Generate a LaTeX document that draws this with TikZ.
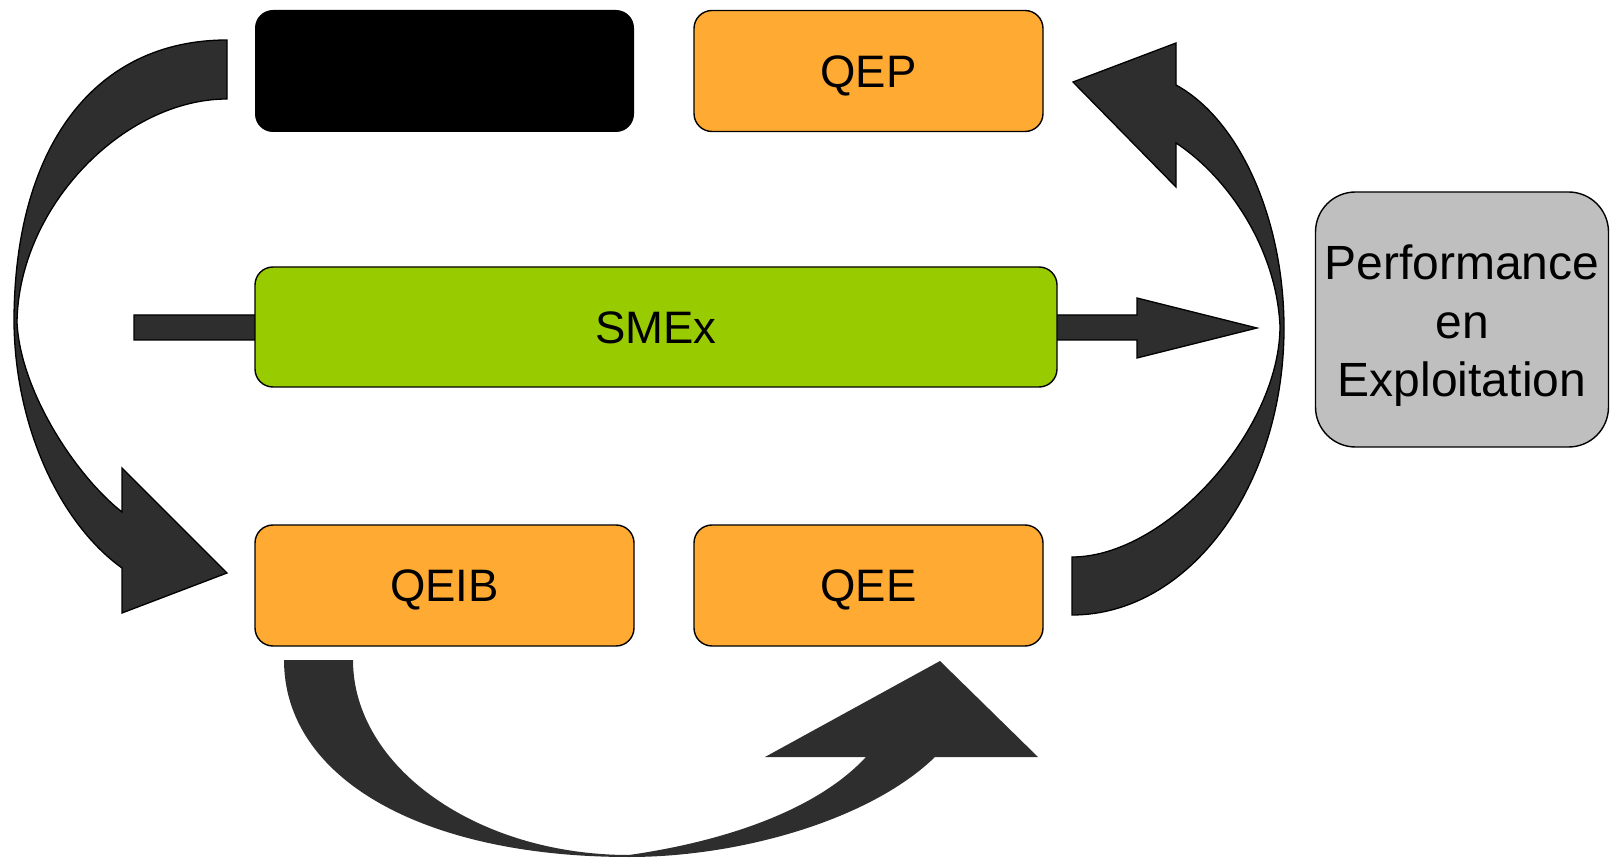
\documentclass[tikz,border=0pt]{standalone}
\usepackage{fontspec}
\setmainfont{Liberation Sans}
\definecolor{boxorange}{RGB}{255,170,51}
\definecolor{boxgreen}{RGB}{153,204,0}
\definecolor{boxgray}{RGB}{191,191,191}
\definecolor{arrowdark}{RGB}{46,46,46}
\begin{document}
\begin{tikzpicture}[x=1pt,y=-1pt,
  box/.style={draw=black,line width=1.4pt,rounded corners=18pt,inner sep=0pt,
    font=\fontsize{45.5}{55}\selectfont,text height=32.6pt,text depth=0pt},
  perftext/.style={inner sep=0pt,anchor=base,font=\fontsize{48}{58}\selectfont},
  bigarrow/.style={fill=arrowdark,draw=black,line width=1.3pt,line join=miter},
  flatarrow/.style={fill=arrowdark,draw=none}]
\useasboundingbox (0,0) rectangle (1610,858);

% straight arrow (behind SMEx)
\coordinate (sat) at (1257,328);
\draw[bigarrow] (134,315) -- (1137,315) -- (1137,298) -- (sat) -- (1137,358) -- (1137,340) -- (134,340) -- cycle;

% left curved arrow (black box -> QEIB)
\draw[bigarrow] (227,40) .. controls (95,40) and (14,146) .. (14,322)
  .. controls (15,430) and (62,525) .. (122,568)
  -- (122,613) -- (227,573) -- (122,468) -- (122,512)
  .. controls (75,475) and (20,390) .. (17,322)
  .. controls (19,205) and (125,99) .. (227,99) -- cycle;

% right curved arrow (QEE -> QEP)
\draw[bigarrow] (1072,615) .. controls (1189,615) and (1284,486) .. (1284,328)
  .. controls (1284,220) and (1240,120) .. (1176,85)
  -- (1176,43) -- (1073,82) -- (1176,187) -- (1176,143)
  .. controls (1225,175) and (1276,245) .. (1280,326)
  .. controls (1280,430) and (1166,557) .. (1072,557) -- cycle;

% bottom arrow (QEIB -> QEE)
\draw[flatarrow] (284,660) .. controls (284,778) and (422,857) .. (629,857)
  .. controls (740,857) and (870,820) .. (935,757)
  -- (1038,757) -- (940,661) -- (765,757) -- (866,757)
  .. controls (815,812) and (720,842) .. (629,855)
  .. controls (477,855) and (353,767) .. (353,660) -- cycle;

% boxes
\node[box,fill=black,draw=none,minimum width=379pt,minimum height=122pt] (hidden) at (444.5,71) {};
\node[box,fill=boxorange,minimum width=349pt,minimum height=121pt] (qep) at (868.5,71) {QEP};
\node[box,fill=boxgreen,minimum width=802pt,minimum height=120pt] (smex) at (656,327) {SMEx};
\node[box,fill=boxorange,minimum width=379pt,minimum height=121pt] (qeib) at (444.5,585.5) {QEIB};
\node[box,fill=boxorange,minimum width=349pt,minimum height=121pt] (qee) at (868.5,585.5) {QEE};
\node[box,fill=boxgray,rounded corners=40pt,minimum width=293pt,minimum height=255pt] (perf) at (1462,319.5) {};
\node[perftext] (perf1) at (1462,280) {Performance};
\node[perftext] (perf2) at (1462,338.5) {en};
\node[perftext] (perf3) at (1462,397) {Exploitation};
\end{tikzpicture}
\end{document}
